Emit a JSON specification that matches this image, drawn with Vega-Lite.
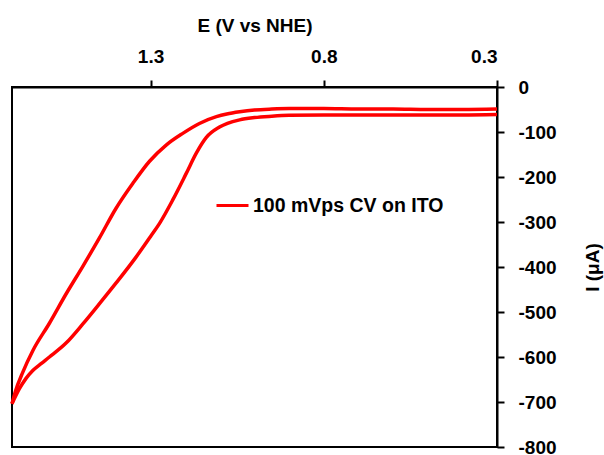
{
  "$schema": "https://vega.github.io/schema/vega-lite/v6.json",
  "width": 485,
  "height": 360,
  "autosize": {"type": "none"},
  "padding": {"left": 12, "top": 87, "right": 107, "bottom": 8},
  "background": "white",
  "config": {
    "font": "Liberation Sans",
    "view": {"stroke": "black", "strokeWidth": 2},
    "axis": {"grid": false, "domainColor": "black", "domainWidth": 2, "tickColor": "black", "tickWidth": 2, "tickSize": 7,
             "labelFont": "Liberation Sans", "labelFontWeight": "bold", "labelFontSize": 19, "labelColor": "black",
             "titleFont": "Liberation Sans", "titleFontWeight": "bold", "titleFontSize": 19, "titleColor": "black"}
  },
  "data": {"values": [
    {"branch": "a", "E": 0.30, "I": -49},
    {"branch": "a", "E": 0.40, "I": -50},
    {"branch": "a", "E": 0.50, "I": -50},
    {"branch": "a", "E": 0.60, "I": -49},
    {"branch": "a", "E": 0.70, "I": -49},
    {"branch": "a", "E": 0.80, "I": -48},
    {"branch": "a", "E": 0.90, "I": -48},
    {"branch": "a", "E": 0.95, "I": -49},
    {"branch": "a", "E": 1.00, "I": -51},
    {"branch": "a", "E": 1.043, "I": -55},
    {"branch": "a", "E": 1.08, "I": -60},
    {"branch": "a", "E": 1.11, "I": -66},
    {"branch": "a", "E": 1.159, "I": -81},
    {"branch": "a", "E": 1.207, "I": -103},
    {"branch": "a", "E": 1.255, "I": -129},
    {"branch": "a", "E": 1.303, "I": -165},
    {"branch": "a", "E": 1.351, "I": -214},
    {"branch": "a", "E": 1.40, "I": -270},
    {"branch": "a", "E": 1.448, "I": -336},
    {"branch": "a", "E": 1.496, "I": -399},
    {"branch": "a", "E": 1.544, "I": -460},
    {"branch": "a", "E": 1.592, "I": -525},
    {"branch": "a", "E": 1.64, "I": -586},
    {"branch": "a", "E": 1.669, "I": -634},
    {"branch": "a", "E": 1.69, "I": -676},
    {"branch": "a", "E": 1.70, "I": -704},
    {"branch": "b", "E": 1.70, "I": -704},
    {"branch": "b", "E": 1.679, "I": -671},
    {"branch": "b", "E": 1.66, "I": -648},
    {"branch": "b", "E": 1.64, "I": -630},
    {"branch": "b", "E": 1.615, "I": -614},
    {"branch": "b", "E": 1.592, "I": -600},
    {"branch": "b", "E": 1.544, "I": -569},
    {"branch": "b", "E": 1.496, "I": -527},
    {"branch": "b", "E": 1.448, "I": -482},
    {"branch": "b", "E": 1.40, "I": -436},
    {"branch": "b", "E": 1.342, "I": -378},
    {"branch": "b", "E": 1.30, "I": -332},
    {"branch": "b", "E": 1.274, "I": -303},
    {"branch": "b", "E": 1.236, "I": -251},
    {"branch": "b", "E": 1.197, "I": -192},
    {"branch": "b", "E": 1.168, "I": -147},
    {"branch": "b", "E": 1.139, "I": -112},
    {"branch": "b", "E": 1.101, "I": -89},
    {"branch": "b", "E": 1.043, "I": -73},
    {"branch": "b", "E": 1.00, "I": -68},
    {"branch": "b", "E": 0.95, "I": -65},
    {"branch": "b", "E": 0.90, "I": -63},
    {"branch": "b", "E": 0.80, "I": -62},
    {"branch": "b", "E": 0.70, "I": -62},
    {"branch": "b", "E": 0.60, "I": -62},
    {"branch": "b", "E": 0.50, "I": -62},
    {"branch": "b", "E": 0.40, "I": -62},
    {"branch": "b", "E": 0.30, "I": -61}
  ]},
  "mark": {"type": "line", "strokeWidth": 3.5, "interpolate": "monotone"},
  "encoding": {
    "x": {"field": "E", "type": "quantitative",
          "scale": {"domain": [1.7, 0.3], "nice": false, "zero": false},
          "axis": {"orient": "top", "title": "E (V vs NHE)", "values": [1.3, 0.8, 0.3], "format": ".1f", "labelPadding": 14, "titlePadding": 12}},
    "y": {"field": "I", "type": "quantitative",
          "scale": {"domain": [-800, 0], "nice": false},
          "axis": {"orient": "right", "title": "I (μA)", "titleAngle": 270, "values": [0, -100, -200, -300, -400, -500, -600, -700, -800],
                   "labelExpr": "'' + datum.value",
                   "labelAlign": "left", "labelPadding": 14, "titlePadding": 46}},
    "detail": {"field": "branch", "type": "nominal"},
    "color": {"datum": "100 mVps CV on ITO", "type": "nominal",
              "scale": {"range": ["#ff0000"]},
              "legend": {"title": null, "orient": "none", "legendX": 203, "legendY": 101, "padding": 0,
                         "symbolType": "stroke", "symbolSize": 1024, "symbolStrokeWidth": 3, "symbolStrokeColor": "#ff0000",
                         "labelFont": "Liberation Sans", "labelFontWeight": "bold", "labelFontSize": 19.5, "labelColor": "black",
                         "labelOffset": 3, "labelLimit": 400}}
  }
}
